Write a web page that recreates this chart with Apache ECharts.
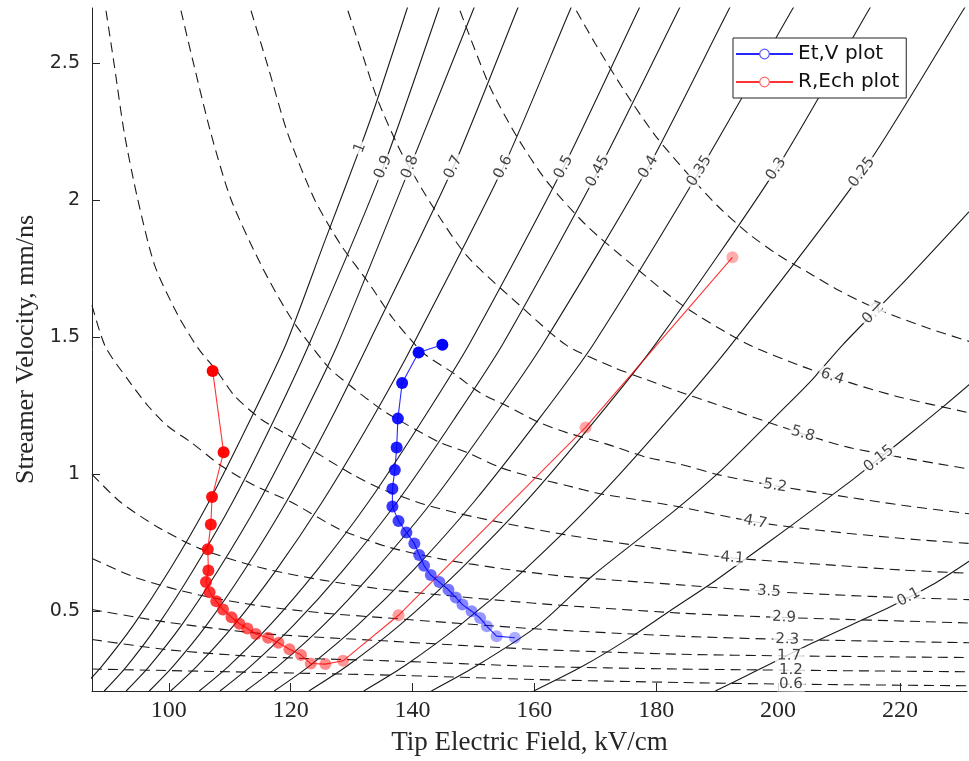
<!DOCTYPE html>
<html><head><meta charset="utf-8">
<script src="https://cdn.jsdelivr.net/npm/echarts@6/dist/echarts.min.js"></script>
<style>html,body{margin:0;padding:0;background:#fff}#c{width:969px;height:761px}</style>
</head><body><div id="c"></div>
<script>
// ---------- axis ticks ----------
const xTicks = [100, 120, 140, 160, 180, 200, 220];
const yTicks = [0.5, 1, 1.5, 2, 2.5];

// ---------- measured series ----------
const blueE = [144.9,141.0,138.3,137.6,137.4,137.1,136.7,136.7,137.7,139.0,140.3,141.1,141.9,143.0,144.4,145.9,147.1,148.2,149.7,151.1,152.2,153.8,156.8];
const blueV = [1.472,1.444,1.333,1.203,1.098,1.016,0.947,0.883,0.830,0.788,0.748,0.706,0.667,0.633,0.607,0.579,0.551,0.525,0.501,0.476,0.446,0.410,0.404];
const redE = [107.2,109.0,107.1,106.9,106.4,106.5,106.1,106.7,107.8,108.9,110.3,111.6,112.9,114.3,116.3,118.0,119.8,121.7,123.3,125.7,128.6,137.7,168.4,192.5];
const redV = [1.377,1.080,0.917,0.817,0.727,0.649,0.607,0.570,0.537,0.507,0.479,0.455,0.438,0.418,0.404,0.386,0.362,0.341,0.310,0.308,0.320,0.486,1.171,1.791];

// ---------- solid contour lines (constant R), [E, v] ----------
const R_1   = [[85.3,0.21],[89.0,0.3],[94.2,0.45],[100.1,0.65],[106.6,0.9],[113.4,1.2],[119.3,1.478],[125.6,1.85],[131.4,2.19],[134.3,2.371],[139.0,2.69],[139.9,2.75]];
const R_09  = [[89.4,0.21],[93.1,0.3],[98.2,0.45],[104.0,0.65],[110.5,0.9],[117.3,1.2],[123.1,1.478],[135.2,2.12],[144.2,2.69],[145.1,2.75]];
const R_08  = [[93.0,0.21],[96.8,0.3],[102.1,0.45],[108.1,0.65],[114.8,0.9],[121.8,1.2],[127.8,1.478],[139.6,2.12],[149.9,2.69],[151.0,2.75]];
const R_07  = [[96.8,0.21],[100.7,0.3],[106.2,0.45],[112.4,0.65],[119.3,0.9],[126.6,1.2],[132.8,1.478],[146.7,2.12],[157.1,2.69],[158.2,2.75]];
const R_06  = [[100.3,0.21],[104.6,0.3],[110.7,0.45],[117.6,0.65],[125.2,0.9],[133.3,1.2],[140.2,1.478],[154.9,2.12],[165.8,2.69],[167.0,2.75]];
const R_05  = [[105.0,0.21],[109.8,0.3],[116.6,0.45],[124.3,0.65],[132.8,0.9],[141.7,1.2],[149.4,1.478],[164.8,2.12],[177.0,2.69],[178.3,2.75]];
const R_045 = [[108.4,0.21],[113.4,0.3],[120.5,0.45],[128.6,0.65],[137.5,0.9],[146.8,1.2],[154.9,1.478],[170.8,2.12],[183.6,2.69],[184.9,2.75]];
const R_04  = [[112.6,0.21],[117.9,0.3],[125.4,0.45],[133.8,0.65],[143.2,0.9],[153.0,1.2],[161.5,1.478],[178.7,2.12],[191.8,2.69],[193.2,2.75]];
const R_035 = [[117.3,0.21],[123.0,0.3],[131.0,0.45],[140.1,0.65],[150.1,0.9],[160.7,1.2],[169.8,1.478],[187.5,2.12],[202.2,2.69],[203.8,2.75]];
const R_03  = [[123.0,0.21],[129.2,0.3],[137.9,0.45],[147.7,0.65],[158.6,0.9],[170.1,1.2],[180.0,1.478],[199.9,2.12],[214.8,2.69],[216.4,2.75]];
const R_025 = [[132.0,0.21],[138.6,0.3],[147.8,0.45],[158.3,0.65],[169.8,0.9],[182.0,1.2],[192.5,1.478],[214.4,2.12],[230.3,2.69],[232.0,2.75]];
const R_02  = [[143.1,0.21],[150.4,0.3],[160.7,0.45],[169.7,0.633],[182.1,0.851],[190.3,1.007],[198.0,1.176],[205.1,1.333],[210.6,1.472],[221.0,1.71],[231.2,1.954],[233.0,2.0]];
const R_015 = [[159.9,0.21],[167.9,0.3],[175.4,0.4],[182.1,0.50],[188.9,0.60],[193.6,0.675],[202.1,0.812],[208.9,0.925],[212.5,0.985],[220.4,1.125],[227.0,1.245],[231.4,1.328],[233.0,1.36]];
const R_01  = [[189.7,0.21],[197.0,0.29],[205.6,0.385],[218.5,0.518],[225.3,0.597],[231.2,0.681],[233.0,0.71]];
const rNames = ['1','0.9','0.8','0.7','0.6','0.5','0.45','0.4','0.35','0.3','0.25','0.2','0.15','0.1'];
const rLabelAt = [[131.4,2.19],[135.2,2.12],[139.6,2.12],[146.7,2.12],[154.9,2.12],[164.8,2.12],[170.8,2.10],[178.7,2.12],[187.5,2.10],[199.9,2.11],[214.4,2.09],[215.5,1.59],[216.6,1.055],[221.5,0.549]];

// ---------- dashed contour lines (constant Ech), [E, v] ----------
const ECH_7  = [[166.9,2.69],[170,2.57],[175,2.39],[180,2.23],[185,2.10],[190,1.98],[195,1.88],[200,1.80],[205,1.735],[210,1.67],[215,1.615],[220,1.57],[225,1.53],[231.4,1.484]];
const ECH_64 = [[147.8,2.69],[152.7,2.413],[157.1,2.232],[162.0,2.069],[168.6,1.906],[176.2,1.761],[184.3,1.616],[194.7,1.478],[204.0,1.393],[212.8,1.327],[220.4,1.279],[231.4,1.224]];
const ECH_58 = [[129.4,2.69],[132.1,2.509],[134.3,2.364],[138.0,2.18],[142.9,1.991],[148.9,1.797],[158.2,1.604],[165.3,1.47],[173.0,1.39],[178.4,1.345],[183.9,1.30],[189.2,1.26],[203.7,1.15],[212.2,1.095],[231.4,1.019]];
const ECH_52 = [[113.5,2.69],[116.3,2.485],[119.5,2.244],[123.9,2.003],[128.3,1.834],[132.7,1.701],[136.8,1.568],[141.8,1.442],[146.7,1.369],[151.1,1.297],[155.5,1.249],[160.9,1.188],[165.3,1.152],[171.9,1.110],[178.4,1.062],[183.9,1.037],[190.3,0.998],[199.3,0.959],[208.4,0.927],[220.4,0.887],[231.4,0.856]];
const ECH_47 = [[102.0,2.69],[104.2,2.485],[106.9,2.244],[110.2,2.003],[115.2,1.761],[120.1,1.568],[126.1,1.393],[129.9,1.321],[134.9,1.236],[139.0,1.182],[144.5,1.116],[148.9,1.080],[154.4,1.025],[159.8,0.989],[165.3,0.959],[170.8,0.929],[178.4,0.902],[183.9,0.881],[196.3,0.826],[206.7,0.796],[220.4,0.766],[231.4,0.748]];
const ECH_41 = [[89.7,2.69],[91.1,2.485],[92.7,2.244],[94.9,2.003],[97.7,1.761],[101.5,1.580],[104.8,1.460],[108.0,1.373],[110.8,1.286],[115.2,1.200],[120.6,1.130],[125.0,1.068],[130.5,0.995],[134.9,0.947],[142,0.89],[150,0.845],[165,0.78],[182.1,0.724],[192.5,0.695],[209.5,0.668],[220.4,0.651],[231.4,0.639]];
const ECH_35 = [[87.4,1.616],[89.6,1.465],[93.3,1.345],[96.6,1.249],[99.8,1.176],[103.7,1.116],[108.6,1.031],[114.1,0.959],[120,0.90],[128,0.80],[136,0.735],[145,0.69],[155,0.655],[165,0.628],[183.9,0.597],[198.5,0.573],[215,0.555],[231.4,0.543]];
const ECH_29 = [[87.4,1.0],[92,0.90],[98,0.81],[105,0.73],[115,0.66],[125,0.615],[136,0.579],[160,0.53],[183.9,0.494],[201,0.478],[231.4,0.458]];
const ECH_23 = [[87.4,0.693],[95,0.62],[105,0.56],[115,0.52],[125,0.495],[136,0.476],[160,0.437],[183.9,0.41],[201.5,0.398],[231.4,0.386]];
const ECH_17 = [[87.4,0.507],[100,0.46],[115,0.42],[136,0.392],[160,0.362],[183.9,0.344],[201.8,0.338],[231.4,0.332]];
const ECH_12 = [[87.4,0.398],[100,0.36],[115,0.335],[136,0.32],[160,0.30],[183.9,0.29],[231.4,0.28]];
const ECH_06 = [[87.4,0.29],[110,0.28],[136,0.268],[160,0.252],[183.9,0.241],[202,0.235],[231.4,0.229]];
const echNames = ['7','6.4','5.8','5.2','4.7','4.1','3.5','2.9','2.3','1.7','1.2','0.6'];
const echLabelAt = [[216.1,1.616],[208.8,1.351],[203.8,1.128],[199.5,0.957],[196.2,0.823],[192.5,0.691],[198.5,0.573],[201.0,0.482],[201.5,0.398],[201.8,0.338],[202.1,0.283],[202.1,0.229]];

const solidCurves = [R_1,R_09,R_08,R_07,R_06,R_05,R_045,R_04,R_035,R_03,R_025,R_02,R_015,R_01];
const dashCurves = [ECH_7,ECH_64,ECH_58,ECH_52,ECH_47,ECH_41,ECH_35,ECH_29,ECH_23,ECH_17,ECH_12,ECH_06];

const chart = echarts.init(document.getElementById('c'), null, {renderer: 'canvas'});
const AX = '#262626';

function curveSeries(curve, dashed) {
  return {
    type: 'line', data: curve, symbol: 'none', silent: true, z: 2,
    smooth: 0.25, animation: false,
    lineStyle: {color: '#1a1a1a', width: 1.1, type: dashed ? [10, 6] : 'solid'},
    legendHoverLink: false
  };
}
function fade(n, i) { return 1 - 0.68 * i / (n - 1); }

const baseSeries = [];
solidCurves.forEach(c => baseSeries.push(curveSeries(c, false)));
dashCurves.forEach(c => baseSeries.push(curveSeries(c, true)));
baseSeries.push({
  name: 'Et,V plot', type: 'line', z: 5, animation: false,
  data: blueE.map((e, i) => ({value: [e, blueV[i]], itemStyle: {opacity: fade(blueE.length, i)}})),
  symbol: 'circle', symbolSize: 12,
  itemStyle: {color: '#0000ff'}, lineStyle: {color: '#0000ff', width: 1.1, opacity: 0.85}
});
baseSeries.push({
  name: 'R,Ech plot', type: 'line', z: 5, animation: false,
  data: redE.map((e, i) => ({value: [e, redV[i]], itemStyle: {opacity: fade(redE.length, i)}})),
  symbol: 'circle', symbolSize: 12,
  itemStyle: {color: '#ff0000'}, lineStyle: {color: '#ff0000', width: 1.1, opacity: 0.8}
});

const option = {
  animation: false,
  backgroundColor: '#fff',
  grid: {left: 92, right: 2, top: 8, bottom: 66, containLabel: false},
  xAxis: {
    type: 'value', min: 87.4, max: 231,
    axisLine: {show: true, onZero: false, lineStyle: {color: AX, width: 1}},
    axisTick: {show: true, inside: true, length: 8, customValues: xTicks, lineStyle: {color: AX}},
    axisLabel: {customValues: xTicks, fontFamily: 'Liberation Serif', fontSize: 24, color: AX, margin: 8},
    splitLine: {show: false},
    name: 'Tip Electric Field, kV/cm', nameLocation: 'middle', nameGap: 38,
    nameTextStyle: {fontFamily: 'Liberation Serif', fontSize: 27, color: AX}
  },
  yAxis: {
    type: 'value', min: 0.21, max: 2.7,
    axisLine: {show: true, onZero: false, lineStyle: {color: AX, width: 1}},
    axisTick: {show: true, inside: true, length: 8, customValues: yTicks, lineStyle: {color: AX}},
    axisLabel: {customValues: yTicks, fontFamily: 'DejaVu Sans', fontSize: 19, color: AX, margin: 12,
      formatter: v => String(v)},
    splitLine: {show: false},
    name: 'Streamer Velocity, mm/ns', nameLocation: 'middle', nameGap: 53, nameRotate: 90,
    nameTextStyle: {fontFamily: 'Liberation Serif', fontSize: 26, color: AX}
  },
  legend: {
    left: 733, top: 38, orient: 'vertical',
    data: [
      {name: 'Et,V plot', itemStyle: {color: '#fff', borderColor: '#5555ff', borderWidth: 1.2}},
      {name: 'R,Ech plot', itemStyle: {color: '#fff', borderColor: '#ff6666', borderWidth: 1.2}}
    ],
    itemWidth: 57, itemHeight: 12, itemGap: 8,
    padding: [6, 7, 6, 2],
    borderColor: '#222', borderWidth: 1, backgroundColor: '#fff',
    textStyle: {fontFamily: 'DejaVu Sans', fontSize: 20, color: '#111', padding: [0, 0, 0, 0]},
    selectedMode: false
  },
  series: baseSeries
};
chart.setOption(option);

// ---------- inline contour labels, placed on the curves and rotated along them ----------
function labelItem(curve, at, text) {
  const pts = curve.map(p => chart.convertToPixel({gridIndex: 0}, p));
  const a = chart.convertToPixel({gridIndex: 0}, at);
  let best = null;
  for (let i = 0; i < pts.length - 1; i++) {
    const p = pts[i], q = pts[i + 1];
    const dx = q[0] - p[0], dy = q[1] - p[1];
    const L2 = dx * dx + dy * dy;
    let t = ((a[0] - p[0]) * dx + (a[1] - p[1]) * dy) / L2;
    t = Math.max(0, Math.min(1, t));
    const x = p[0] + t * dx, y = p[1] + t * dy;
    const d = (x - a[0]) ** 2 + (y - a[1]) ** 2;
    if (!best || d < best.d) best = {d, x, y, dx, dy};
  }
  let ang = Math.atan2(-best.dy, best.dx) * 180 / Math.PI;
  if (ang > 90) ang -= 180;
  if (ang < -90) ang += 180;
  return {value: chart.convertFromPixel({gridIndex: 0}, [best.x, best.y]),
          label: {formatter: text, rotate: ang}};
}
const labelData = [];
solidCurves.forEach((c, i) => labelData.push(labelItem(c, rLabelAt[i], rNames[i])));
dashCurves.forEach((c, i) => labelData.push(labelItem(c, echLabelAt[i], echNames[i])));
const series2 = baseSeries.slice();
series2.push({
  type: 'scatter', z: 3, silent: true, animation: false, symbol: 'circle', symbolSize: 1,
  itemStyle: {color: 'rgba(0,0,0,0)'},
  label: {show: true, position: 'inside', fontFamily: 'DejaVu Sans', fontSize: 15, color: '#111',
    backgroundColor: '#fff', padding: [0, 2]},
  data: labelData
});
chart.setOption({series: series2});
</script>
</body></html>
